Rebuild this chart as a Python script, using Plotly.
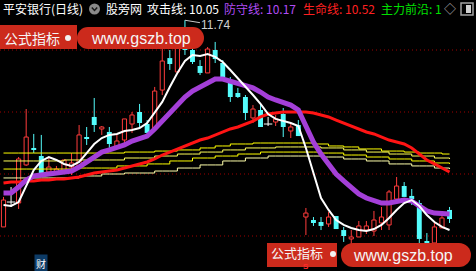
import plotly.graph_objects as go

W, H = 476, 271

# ---------------- data (prices) ----------------
OPEN = [10.073, 10.274, 10.266, 10.573, 10.710, 10.645, 10.516, 10.516, 10.524, 10.556,
        10.556, 10.798, 10.960, 10.863, 10.839, 10.710, 10.774, 10.903, 11.000, 10.903,
        10.863, 11.177, 11.435, 11.323, 11.581, 11.500, 11.371, 11.315, 11.500, 11.395,
        11.234, 11.153, 11.121, 10.952, 11.016, 10.903, 10.919, 10.984, 10.847, 10.895,
        10.153, 10.129, 10.113, 10.097, 10.161, 10.048, 9.976, 9.992, 10.048, 10.040,
        10.105, 10.089, 10.298, 10.403, 10.323, 10.266, 9.952, 9.944, 10.065, 10.210]
HIGH = [10.315, 10.395, 10.637, 11.024, 10.823, 10.815, 10.637, 10.565, 10.613, 10.669,
        10.895, 10.879, 11.113, 10.887, 10.879, 10.815, 10.944, 11.000, 11.065, 10.935,
        11.202, 11.516, 11.500, 11.597, 11.740, 11.581, 11.419, 11.524, 11.565, 11.419,
        11.282, 11.194, 11.137, 11.056, 11.056, 10.960, 10.976, 11.032, 10.911, 10.935,
        10.226, 10.153, 10.153, 10.194, 10.161, 10.073, 10.048, 10.121, 10.121, 10.202,
        10.234, 10.371, 10.476, 10.435, 10.379, 10.290, 10.024, 10.113, 10.161, 10.234]
LOW = [10.073, 10.234, 10.218, 10.565, 10.669, 10.492, 10.516, 10.516, 10.524, 10.492,
       10.556, 10.734, 10.839, 10.815, 10.710, 10.710, 10.750, 10.831, 10.879, 10.831,
       10.855, 11.137, 11.339, 11.323, 11.460, 11.387, 11.298, 11.315, 11.395, 11.282,
       11.081, 11.113, 10.935, 10.911, 10.879, 10.887, 10.887, 10.798, 10.790, 10.806,
       10.008, 10.081, 10.048, 10.073, 10.056, 9.952, 9.887, 9.992, 10.016, 10.000,
       10.048, 10.048, 10.298, 10.315, 10.250, 9.927, 9.944, 9.944, 10.065, 10.105]
CLOSE = [10.290, 10.274, 10.621, 10.798, 10.694, 10.508, 10.556, 10.540, 10.613, 10.589,
         10.815, 10.790, 10.895, 10.879, 10.742, 10.766, 10.944, 10.976, 10.911, 10.831,
         11.169, 11.411, 11.387, 11.548, 11.500, 11.403, 11.315, 11.508, 11.427, 11.282,
         11.121, 11.121, 10.992, 11.024, 10.879, 10.903, 10.944, 10.879, 10.879, 10.806,
         10.185, 10.105, 10.081, 10.153, 10.056, 10.000, 9.992, 10.081, 10.081, 10.129,
         10.153, 10.355, 10.403, 10.315, 10.298, 9.976, 9.944, 10.073, 10.145, 10.137]

ATTACK_LINE = [10.250, 10.242, 10.274, 10.403, 10.532, 10.605, 10.637, 10.613, 10.581, 10.565,
               10.597, 10.669, 10.742, 10.790, 10.815, 10.823, 10.847, 10.855, 10.871, 10.911,
               10.992, 11.081, 11.202, 11.315, 11.411, 11.460, 11.452, 11.468, 11.444, 11.403,
               11.339, 11.274, 11.202, 11.137, 11.065, 10.984, 10.944, 10.927, 10.911, 10.887,
               10.710, 10.508, 10.306, 10.210, 10.129, 10.089, 10.065, 10.048, 10.040, 10.056,
               10.089, 10.145, 10.210, 10.266, 10.290, 10.242, 10.169, 10.113, 10.073, 10.048]
DEFENSE_LINE = [10.347, 10.347, 10.395, 10.452, 10.484, 10.492, 10.492, 10.500, 10.508, 10.524,
                10.556, 10.597, 10.637, 10.677, 10.694, 10.710, 10.734, 10.766, 10.782, 10.806,
                10.863, 10.927, 11.000, 11.065, 11.121, 11.169, 11.202, 11.242, 11.266, 11.266,
                11.250, 11.234, 11.218, 11.194, 11.161, 11.121, 11.097, 11.081, 11.056, 11.016,
                10.895, 10.758, 10.661, 10.573, 10.500, 10.444, 10.387, 10.339, 10.306, 10.290,
                10.266, 10.266, 10.282, 10.290, 10.282, 10.242, 10.202, 10.185, 10.177, 10.177]
LIFE_LINE = [10.427, 10.435, 10.435, 10.444, 10.444, 10.452, 10.452, 10.460, 10.460, 10.468,
             10.476, 10.492, 10.508, 10.516, 10.524, 10.532, 10.548, 10.565, 10.581, 10.597,
             10.621, 10.653, 10.677, 10.702, 10.726, 10.750, 10.774, 10.790, 10.815, 10.839,
             10.863, 10.879, 10.903, 10.927, 10.960, 10.984, 10.992, 11.000, 11.000, 11.000,
             11.000, 10.992, 10.976, 10.960, 10.935, 10.911, 10.887, 10.863, 10.839, 10.823,
             10.798, 10.774, 10.758, 10.742, 10.710, 10.661, 10.613, 10.581, 10.548, 10.516]

BAND_1 = [10.669, 10.669, 10.669, 10.669, 10.669, 10.669, 10.669, 10.669, 10.669, 10.669,
          10.669, 10.669, 10.669, 10.669, 10.669, 10.669, 10.677, 10.677, 10.677, 10.677,
          10.685, 10.685, 10.685, 10.694, 10.694, 10.694, 10.710, 10.710, 10.726, 10.726,
          10.742, 10.742, 10.742, 10.750, 10.750, 10.750, 10.750, 10.750, 10.750, 10.750,
          10.750, 10.742, 10.742, 10.726, 10.726, 10.718, 10.718, 10.702, 10.702, 10.702,
          10.685, 10.685, 10.685, 10.677, 10.677, 10.669, 10.669, 10.669, 10.661, 10.661]
BAND_2 = [10.605, 10.605, 10.605, 10.605, 10.605, 10.605, 10.605, 10.605, 10.613, 10.613,
          10.613, 10.613, 10.613, 10.613, 10.613, 10.613, 10.629, 10.629, 10.629, 10.629,
          10.645, 10.645, 10.645, 10.661, 10.661, 10.661, 10.677, 10.677, 10.677, 10.694,
          10.694, 10.694, 10.710, 10.710, 10.710, 10.710, 10.718, 10.718, 10.718, 10.718,
          10.718, 10.718, 10.710, 10.710, 10.710, 10.694, 10.694, 10.694, 10.677, 10.677,
          10.677, 10.661, 10.661, 10.661, 10.645, 10.645, 10.645, 10.629, 10.629, 10.621]
BAND_3 = [10.540, 10.540, 10.540, 10.540, 10.540, 10.540, 10.540, 10.540, 10.540, 10.540,
          10.548, 10.548, 10.548, 10.548, 10.548, 10.565, 10.565, 10.565, 10.565, 10.581,
          10.581, 10.581, 10.605, 10.605, 10.605, 10.629, 10.629, 10.629, 10.645, 10.645,
          10.645, 10.661, 10.661, 10.661, 10.677, 10.677, 10.677, 10.677, 10.677, 10.677,
          10.677, 10.677, 10.669, 10.669, 10.669, 10.653, 10.653, 10.653, 10.637, 10.637,
          10.637, 10.621, 10.621, 10.621, 10.605, 10.605, 10.605, 10.589, 10.589, 10.581]
BAND_4 = [10.468, 10.468, 10.468, 10.468, 10.468, 10.468, 10.468, 10.468, 10.468, 10.468,
          10.484, 10.484, 10.484, 10.500, 10.500, 10.500, 10.508, 10.508, 10.508, 10.508,
          10.524, 10.524, 10.524, 10.548, 10.548, 10.548, 10.573, 10.573, 10.573, 10.605,
          10.605, 10.605, 10.629, 10.629, 10.629, 10.645, 10.645, 10.645, 10.645, 10.645,
          10.645, 10.645, 10.637, 10.637, 10.637, 10.621, 10.621, 10.621, 10.605, 10.605,
          10.605, 10.581, 10.581, 10.581, 10.565, 10.565, 10.565, 10.548, 10.548, 10.540]

GRID_LEVELS = [10.0, 10.5, 11.0, 11.5]

HEADER_TEXTS = ["平安银行(日线)", "股旁网", "攻击线: 10.05", "防守线: 10.17",
                "生命线: 10.52", "主力前沿: 1", "◇"]
WATERMARK_LEFT = "公式指标"
WATERMARK_URL = "www.gszb.top"

# ---------------- styles ----------------
RED_UP = "#ff3c3c"
CYAN = "#54fcfc"
PURPLE = "#a43fd8"
LIFE_RED = "#ff1414"
BANNER_RED = "#cc2a1c"
CJK = "Noto Sans CJK SC"


def px(x):
    return x / W


def py(y):
    return 1 - y / H


N = len(OPEN)
idx = list(range(N))
up = [i for i in idx if CLOSE[i] > OPEN[i]]
down = [i for i in idx if CLOSE[i] < OPEN[i]]
flat = [i for i in idx if CLOSE[i] == OPEN[i]]


def wicks(ids):
    xs, ys = [], []
    for i in ids:
        top = max(OPEN[i], CLOSE[i])
        bot = min(OPEN[i], CLOSE[i])
        if HIGH[i] > top:
            xs += [i, i, None]
            ys += [top, HIGH[i], None]
        if LOW[i] < bot:
            xs += [i, i, None]
            ys += [LOW[i], bot, None]
    return xs, ys


fig = go.Figure()

for ids, col in ((up, RED_UP), (down, CYAN)):
    wx, wy = wicks(ids)
    fig.add_trace(go.Scatter(x=wx, y=wy, mode="lines",
                             line=dict(color=col, width=1), hoverinfo="skip"))

fx, fy = [], []
for i in flat:
    fx += [i, i, None]
    fy += [LOW[i], HIGH[i], None]
fig.add_trace(go.Scatter(x=fx, y=fy, mode="lines",
                         line=dict(color="#ffffff", width=1), hoverinfo="skip"))

fig.add_trace(go.Bar(x=up, y=[CLOSE[i] - OPEN[i] for i in up],
                     base=[OPEN[i] for i in up], width=0.55,
                     marker=dict(color="#000000", line=dict(color=RED_UP, width=1))))
fig.add_trace(go.Bar(x=down, y=[OPEN[i] - CLOSE[i] for i in down],
                     base=[CLOSE[i] for i in down], width=0.65,
                     marker=dict(color=CYAN, line=dict(width=0))))
fig.add_trace(go.Scatter(x=flat, y=[OPEN[i] for i in flat], mode="markers",
                         marker=dict(symbol="line-ew", size=6,
                                     line=dict(color="#ffffff", width=1))))

for band, col in ((BAND_1, "#ffff00"), (BAND_2, "#ffff5a"),
                  (BAND_3, "#ffff00"), (BAND_4, "#ffffaa")):
    fig.add_trace(go.Scatter(x=idx, y=band, mode="lines",
                             line=dict(color=col, width=1, shape="hv")))

fig.add_trace(go.Scatter(x=idx, y=LIFE_LINE, mode="lines",
                         line=dict(color=LIFE_RED, width=3)))
fig.add_trace(go.Scatter(x=idx, y=DEFENSE_LINE, mode="lines",
                         line=dict(color=PURPLE, width=5)))
fig.add_trace(go.Scatter(x=idx, y=ATTACK_LINE, mode="lines",
                         line=dict(color="#ffffff", width=2)))

shapes = []
for lv in GRID_LEVELS:
    shapes.append(dict(type="line", xref="paper", x0=0, x1=1, yref="y", y0=lv, y1=lv,
                       line=dict(color="#a00000", width=1, dash="1px,3px"), layer="below"))


def circle(cx, cy, r, color):
    return dict(type="circle", xref="paper", yref="paper",
                x0=px(cx - r), x1=px(cx + r), y0=py(cy + r), y1=py(cy - r),
                fillcolor=color, line=dict(width=0), layer="above")


def rect(x0, y0, x1, y1, color, line=None):
    d = dict(type="rect", xref="paper", yref="paper",
             x0=px(x0), x1=px(x1), y0=py(y1), y1=py(y0), layer="above")
    if color:
        d["fillcolor"] = color
    d["line"] = line if line else dict(width=0)
    return d


# watermark banners
for (bx0, by0, bx1, by1, dotx, dy, pl, pr, pt, pb) in (
        (0, 25, 77, 49, 68, 38, 77, 204, 27, 49),
        (267, 243, 337, 267, 333, 254, 341, 471, 243, 267)):
    shapes.append(rect(bx0, by0, bx1, by1, BANNER_RED))
    r = (pb - pt) / 2
    shapes.append(rect(pl + r, pt, pr - r, pb, BANNER_RED))
    shapes.append(circle(pl + r, (pt + pb) / 2, r, BANNER_RED))
    shapes.append(circle(pr - r, (pt + pb) / 2, r, BANNER_RED))
    shapes.append(circle(dotx, dy, 3, "#f2f2f2"))

# header icons
shapes.append(circle(94.5, 9, 5.5, "#8a8a8a"))
shapes.append(dict(type="path", xref="paper", yref="paper",
                   path=f"M {px(91.8)} {py(7.5)} L {px(94.5)} {py(10.5)} L {px(97.2)} {py(7.5)}",
                   line=dict(color="#1a1a1a", width=1.5), layer="above"))
shapes.append(rect(461, 3, 473, 15, None, line=dict(color="#a0a0a0", width=1.5)))
shapes.append(rect(466, 5, 471, 13, "#d0d0d0"))

annotations = []
header_pos = [(2, "#ffffff"), (105, "#ffffff"), (146, "#ffffff"), (223, "#b04cf5"),
              (302, "#ff2020"), (380, "#00e000"), (443, "#b0b0b0")]
for txt, (x0, col) in zip(HEADER_TEXTS, header_pos):
    annotations.append(dict(text=txt, xref="paper", yref="paper", x=px(x0), y=py(9),
                            xanchor="left", yanchor="middle", showarrow=False,
                            font=dict(family=CJK, size=12, color=col), borderpad=0))

hi_i = max(idx, key=lambda i: HIGH[i])
annotations.append(dict(text=f"{HIGH[hi_i]:.2f}", x=hi_i, y=HIGH[hi_i], xref="x", yref="y",
                        showarrow=True, arrowhead=0, arrowwidth=1, arrowcolor="#c8c8c8",
                        ax=31, ay=5, standoff=0,
                        font=dict(family="Liberation Sans", size=12, color="#d0d0d0")))

for cx, cy, fs in ((31.5, 37.5, 14), (296.5, 252, 13)):
    annotations.append(dict(text=WATERMARK_LEFT, xref="paper", yref="paper", x=px(cx), y=py(cy),
                            showarrow=False, xanchor="center", yanchor="middle", borderpad=0,
                            font=dict(family=CJK, size=fs, color="#f5f5f5")))
for cx, cy in ((140.5, 38), (403, 255)):
    annotations.append(dict(text=WATERMARK_URL, xref="paper", yref="paper", x=px(cx), y=py(cy),
                            showarrow=False, xanchor="center", yanchor="middle", borderpad=0,
                            font=dict(family="Liberation Sans", size=16, color="#f5f5f5")))

annotations.append(dict(text="财", xref="paper", yref="paper", x=px(40.5), y=py(263),
                        showarrow=False, xanchor="center", yanchor="middle",
                        bgcolor="#0d3b66", borderpad=1,
                        font=dict(family=CJK, size=10, color="#ffffff")))
annotations.append(dict(text="<b>S</b>", xref="paper", yref="paper", x=px(305.5), y=py(266),
                        showarrow=False, xanchor="center", yanchor="middle", borderpad=0,
                        font=dict(family="Liberation Sans", size=8, color="#ff2a2a")))

fig.update_layout(
    width=W, height=H, margin=dict(l=0, r=0, t=0, b=0),
    paper_bgcolor="#000000", plot_bgcolor="#000000",
    showlegend=False, barmode="overlay",
    xaxis=dict(range=[-0.463, 62.5], visible=False, fixedrange=True),
    yaxis=dict(range=[9.7177, 11.9032], visible=False, fixedrange=True),
    shapes=shapes, annotations=annotations,
)

fig.write_html("out.html")
